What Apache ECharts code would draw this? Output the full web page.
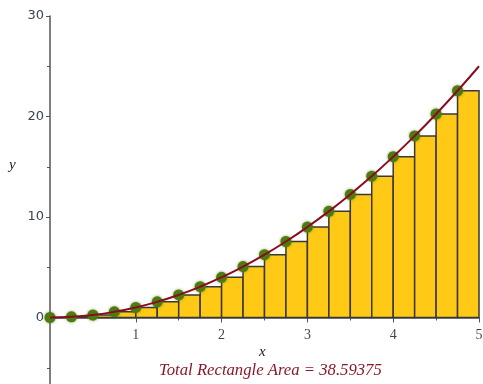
<!DOCTYPE html>
<html>
<head>
<meta charset="utf-8">
<script src="https://cdn.jsdelivr.net/npm/echarts@6/dist/echarts.min.js"></script>
<style>
  html, body { margin: 0; padding: 0; background: #fff; }
  #chart { width: 483px; height: 384px; }
</style>
</head>
<body>
<div id="chart"></div>
<script>
// Left Riemann sum of y = x^2 on [0, 5] with 20 subintervals
const rectWidth = 0.25;
const rectLeft = [0, 0.25, 0.5, 0.75, 1, 1.25, 1.5, 1.75, 2, 2.25,
                  2.5, 2.75, 3, 3.25, 3.5, 3.75, 4, 4.25, 4.5, 4.75];
const rectHeight = [0, 0.0625, 0.25, 0.5625, 1, 1.5625, 2.25, 3.0625, 4, 5.0625,
                    6.25, 7.5625, 9, 10.5625, 12.25, 14.0625, 16, 18.0625, 20.25, 22.5625];
// samples of the curve, drawn smoothed
const curveX = [0, 0.25, 0.5, 0.75, 1, 1.25, 1.5, 1.75, 2, 2.25, 2.5,
                2.75, 3, 3.25, 3.5, 3.75, 4, 4.25, 4.5, 4.75, 5];
const curveY = [0, 0.0625, 0.25, 0.5625, 1, 1.5625, 2.25, 3.0625, 4, 5.0625, 6.25,
                7.5625, 9, 10.5625, 12.25, 14.0625, 16, 18.0625, 20.25, 22.5625, 25];
const xTicks = [1, 2, 3, 4, 5];
const yTicks = [0, 10, 20, 30];

const totalArea = rectHeight.reduce((s, h) => s + h * rectWidth, 0);

const chart = echarts.init(document.getElementById('chart'));

const rectData = rectLeft.map((x, i) => [x, x + rectWidth, rectHeight[i]]);
const pointData = rectLeft.map((x, i) => [x, rectHeight[i]]);
const curveData = curveX.map((x, i) => [x, curveY[i]]);
// x tick labels sit just under the axis line at y = 0
const xLabelData = xTicks.map(v => [v, 0]);

chart.setOption({
  animation: false,
  grid: { left: 50, top: 16, width: 429, height: 402, outerBoundsMode: 'none', containLabel: false },
  xAxis: {
    type: 'value', min: 0, max: 5, interval: 1,
    axisLine: { onZero: true, lineStyle: { color: '#555', width: 1.5 } },
    axisTick: { show: true, length: 5, lineStyle: { color: '#555' } },
    minorTick: { show: true, splitNumber: 2, length: 3, lineStyle: { color: '#555' } },
    splitLine: { show: false },
    axisLabel: { show: false }
  },
  yAxis: {
    type: 'value', min: -10, max: 30, interval: 10,
    axisLine: { onZero: true, lineStyle: { color: '#555', width: 1.5 } },
    axisTick: { show: true, length: 4, lineStyle: { color: '#555' } },
    minorTick: { show: true, splitNumber: 2, length: 3, lineStyle: { color: '#555' } },
    splitLine: { show: false },
    axisLabel: {
      margin: 6,
      fontFamily: 'DejaVu Sans', fontSize: 13, color: '#3a4455',
      formatter: v => (yTicks.indexOf(v) >= 0 ? String(v) : '')
    }
  },
  series: [
    {
      type: 'custom',
      data: rectData,
      z: 2,
      renderItem: (params, api) => {
        const p0 = api.coord([api.value(0), 0]);
        const p1 = api.coord([api.value(1), api.value(2)]);
        return {
          type: 'rect',
          shape: { x: p0[0], y: p1[1], width: p1[0] - p0[0], height: p0[1] - p1[1] },
          style: { fill: '#ffc915', stroke: '#383838', lineWidth: 1.5 }
        };
      }
    },
    {
      type: 'scatter',
      data: pointData,
      z: 3,
      symbol: 'circle',
      symbolSize: 11,
      itemStyle: { color: '#4c7b10', opacity: 1, shadowBlur: 3, shadowColor: 'rgba(80,120,20,0.7)' }
    },
    {
      type: 'line',
      data: curveData,
      z: 4,
      smooth: true,
      showSymbol: false,
      lineStyle: { color: '#8a0c22', width: 2 }
    },
    {
      type: 'scatter',
      data: xLabelData,
      z: 5,
      symbolSize: 0,
      silent: true,
      label: {
        show: true, position: 'bottom', distance: 11,
        fontFamily: 'Liberation Serif', fontSize: 14, color: '#111',
        formatter: p => String(p.value[0])
      }
    }
  ],
  graphic: [
    {
      type: 'text', left: 259, top: 345,
      style: { text: 'x', font: 'italic 15px "Liberation Serif"', fill: '#222' }
    },
    {
      type: 'text', left: 9, top: 158,
      style: { text: 'y', font: 'italic 15px "Liberation Serif"', fill: '#222' }
    },
    {
      type: 'text', left: 159, top: 362,
      style: {
        text: 'Total Rectangle Area = ' + totalArea,
        font: 'italic 16.7px "Liberation Serif"', fill: '#8a1a2a'
      }
    }
  ]
});
</script>
</body>
</html>
